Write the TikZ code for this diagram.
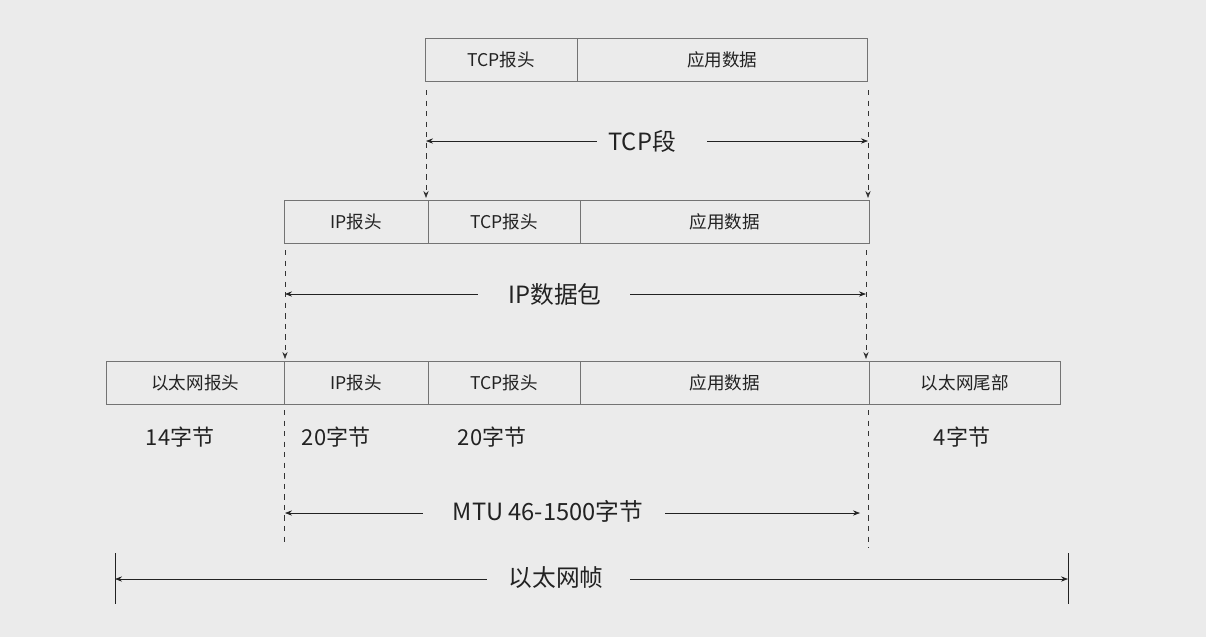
\documentclass[tikz,border=0pt]{standalone}
\usepackage{fontspec}
\setmainfont{Noto Sans CJK SC}
\usetikzlibrary{arrows.meta}
\definecolor{bg}{HTML}{EBEBEB}
\definecolor{ink}{HTML}{222222}
\tikzset{>={Stealth[length=4pt,width=3pt]},
  cell/.style={draw=black!55,fill=bg,minimum height=0.86cm,inner sep=0pt,font=\fontsize{10}{12}\selectfont,text=ink},
  big/.style={fill=bg,inner sep=2pt,font=\fontsize{13.5}{16}\selectfont,text=ink},
  size/.style={font=\fontsize{12.5}{15}\selectfont,text=ink},
  guide/.style={dashed,thin,black!80},
  span/.style={thin,ink}}
\newcommand\cellbox[4]{\node[cell,minimum width=#3*0.02cm,anchor=north west] (#1) at (#2) {#4};}
\begin{document}
\begin{tikzpicture}[x=0.02cm,y=-0.02cm]
\fill[bg] (0,0) rectangle (1206,637);
\useasboundingbox (0,0) rectangle (1206,637);
% TCP segment
\cellbox{t1}{425,38}{152}{TCP报头}
\cellbox{t2}{577,38}{290}{应用数据}
\coordinate (ta) at (426,90); \coordinate (tb) at (426,198);
\coordinate (tc) at (868,90); \coordinate (td) at (868,198);
\draw[guide,->] (ta) -- (tb);
\draw[guide,->] (tc) -- (td);
\node[big] (tcp) at (642,141) {TCP段};
\draw[span,<-] (426,141) -- (597,141);
\draw[span,->] (707,141) -- (868,141);
% IP packet
\cellbox{i1}{284,200}{144}{IP报头}
\cellbox{i2}{428,200}{152}{TCP报头}
\cellbox{i3}{580,200}{289}{应用数据}
\coordinate (ia) at (285,250); \coordinate (ib) at (285,359);
\coordinate (ic) at (866,250); \coordinate (id) at (866,359);
\draw[guide,->] (ia) -- (ib);
\draw[guide,->] (ic) -- (id);
\node[big] (ip) at (555,294) {IP数据包};
\draw[span,<-] (285,294) -- (478,294);
\draw[span,->] (630,294) -- (866,294);
% Ethernet frame
\cellbox{e1}{106,361}{178}{以太网报头}
\cellbox{e2}{284,361}{144}{IP报头}
\cellbox{e3}{428,361}{152}{TCP报头}
\cellbox{e4}{580,361}{289}{应用数据}
\cellbox{e5}{869,361}{191}{以太网尾部}
\node[size] (s1) at (180,437) {14字节};
\node[size] (s2) at (336,437) {20字节};
\node[size] (s3) at (492,437) {20字节};
\node[size] (s4) at (962,437) {4字节};
\draw[guide] (284,410) -- (284,545);
\draw[guide] (868,410) -- (868,548);
\node[big] (mtu) at (548,511) {MTU 46-1500字节};
\draw[span,<-] (285,513) -- (423,513);
\draw[span,->] (665,513) -- (860,513);
\draw[thin,ink] (115,553) -- (115,604);
\draw[thin,ink] (1068,553) -- (1068,604);
\node[big] (eth) at (556,578) {以太网帧};
\draw[span,<-] (115,579) -- (487,579);
\draw[span,->] (630,579) -- (1068,579);
\end{tikzpicture}
\end{document}
